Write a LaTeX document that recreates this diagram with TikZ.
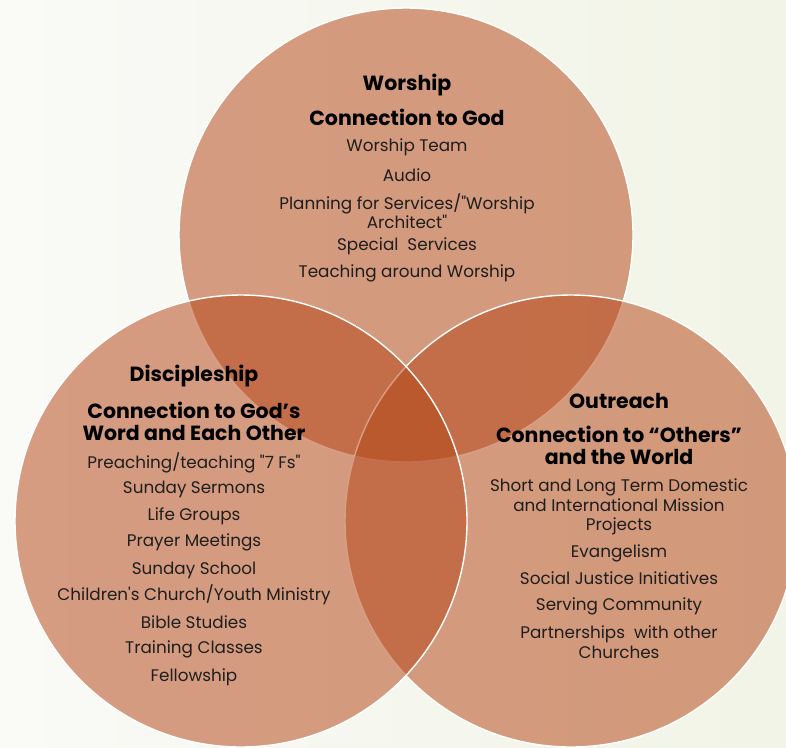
\documentclass[tikz,border=0pt]{standalone}
\usepackage{fontspec}
\setmainfont{Poppins}
\definecolor{terra}{RGB}{181,70,24}
\definecolor{paperA}{RGB}{250,250,247}
\definecolor{paperB}{RGB}{241,244,230}
\definecolor{inktext}{RGB}{30,30,30}
\tikzset{
  venn/.style={fill=terra, fill opacity=0.52, draw=white, line width=1.4pt},
  head/.style={font=\fontsize{20.5}{22}\selectfont\bfseries, align=center, inner sep=0, text=black},
  item/.style={font=\fontsize{16.8}{19.5}\selectfont, align=center, inner sep=0, text=inktext}
}
\begin{document}
\begin{tikzpicture}[x=1pt,y=-1pt]
\useasboundingbox (0,0) rectangle (786,747);
\shade[left color=paperA,right color=paperB] (0,0) rectangle (786,747);
% the three circles
\path[venn] (406,235) circle (227pt);
\path[venn] (571,521) circle (226pt);
\path[venn] (241,521) circle (226pt);
% worship
\node[head] (worT) at (407,85) {Worship};
\node[head] (worS) at (407,117) {Connection to God};
\node[item] (wor1) at (407,147) {Worship Team};
\node[item] (wor2) at (407,175) {Audio};
\node[item] (wor3) at (407,211) {Planning for Services/\textquotedbl Worship\\Architect\textquotedbl};
\node[item] (wor4) at (407,246) {Special\ \ Services};
\node[item] (wor5) at (407,273) {Teaching around Worship};
% discipleship
\node[head] (disT) at (194,376) {Discipleship};
\node[head] (disS) at (194,421) {Connection to God’s\\Word and Each Other};
\node[item] (dis1) at (194,463) {Preaching/teaching \textquotedbl 7 Fs\textquotedbl};
\node[item] (dis2) at (194,489) {Sunday Sermons};
\node[item] (dis3) at (194,516) {Life Groups};
\node[item] (dis4) at (194,542) {Prayer Meetings};
\node[item] (dis5) at (194,570) {Sunday School};
\node[item] (dis6) at (194,595) {Children\textquotesingle s Church/Youth Ministry};
\node[item] (dis7) at (194,622) {Bible Studies};
\node[item] (dis8) at (194,649) {Training Classes};
\node[item] (dis9) at (194,677) {Fellowship};
% outreach
\node[head] (outT) at (619,401) {Outreach};
\node[head] (outS) at (619,445) {Connection to “Others”\\and the World};
\node[item] (out1) at (619,507) {Short and Long Term Domestic\\and International Mission\\Projects};
\node[item] (out2) at (619,553) {Evangelism};
\node[item] (out3) at (619,578) {Social Justice Initiatives};
\node[item] (out4) at (619,606) {Serving Community};
\node[item] (out5) at (619,642) {Partnerships\ \ with other\\Churches};
\end{tikzpicture}
\end{document}
